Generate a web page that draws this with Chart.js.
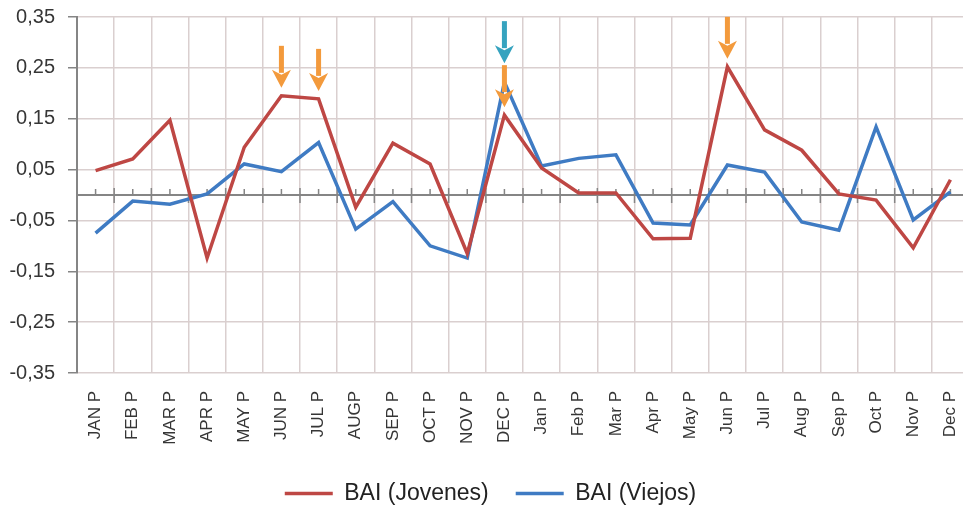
<!DOCTYPE html>
<html>
<head>
<meta charset="utf-8">
<title>BAI Jovenes / Viejos</title>
<script src="https://cdn.jsdelivr.net/npm/chart.js@4.4.1/dist/chart.umd.min.js"></script>
<style>
    html, body { margin: 0; padding: 0; background: #fff; overflow: hidden; }
    #wrap { width: 963px; height: 507px; overflow: hidden; }
    canvas { display: block; }
</style>
</head>
<body>
<div id="wrap"><canvas id="bai-chart" width="972" height="507"></canvas></div>
<script>
// Monthly BAI values, two years
const months = ['JAN P', 'FEB P', 'MAR P', 'APR P', 'MAY P', 'JUN P', 'JUL P', 'AUGP', 'SEP P', 'OCT P', 'NOV P', 'DEC P',
                'Jan P', 'Feb P', 'Mar P', 'Apr P', 'May P', 'Jun P', 'Jul P', 'Aug P', 'Sep P', 'Oct P', 'Nov P', 'Dec P'];
const jovenes = [0.048, 0.071, 0.147, -0.124, 0.094, 0.195, 0.189, -0.024, 0.102, 0.061, -0.115, 0.157,
                 0.053, 0.004, 0.004, -0.086, -0.085, 0.252, 0.128, 0.088, 0.002, -0.010, -0.104, 0.030];
const viejos = [-0.075, -0.012, -0.018, 0.002, 0.061, 0.046, 0.103, -0.067, -0.013, -0.100, -0.124, 0.222,
                0.057, 0.072, 0.079, -0.055, -0.059, 0.059, 0.045, -0.053, -0.069, 0.134, -0.049, 0.006];

// y axis range and tick step
const yMin = -0.35;
const yMax = 0.35;
const yStep = 0.1;

// months flagged with an arrow
const markedJovenes = ['JUN P', 'JUL P', 'DEC P', 'Jun P'];
const markedViejos = ['DEC P'];

(function() {
    'use strict';

    const colors = {
        red: '#BE4744',
        blue: '#3F7BC3',
        orange: '#F39A3C',
        teal: '#36A3BF',
        grid: '#DACFCF',
        axis: '#858585',
        text: '#363636'
    };
    const fontFamily = '"Liberation Sans", Arial, sans-serif';

    // dark horizontal axis through zero, with Excel-like tick marks
    const zeroAxis = {
        id: 'zeroAxis',
        beforeDatasetsDraw(chart) {
            const { ctx, chartArea, scales: { x, y } } = chart;
            const y0 = y.getPixelForValue(0);
            const step = (chartArea.right - chartArea.left) / months.length;
            ctx.save();
            ctx.strokeStyle = colors.axis;
            ctx.lineWidth = 2;
            ctx.beginPath();
            ctx.moveTo(chartArea.left, y0);
            ctx.lineTo(chartArea.right, y0);
            ctx.stroke();
            ctx.lineWidth = 1.5;
            ctx.beginPath();
            for (let i = 0; i < months.length; i++) {
                const cx = x.getPixelForValue(i);
                ctx.moveTo(cx, y0 - 6);
                ctx.lineTo(cx, y0);
                const bx = cx - step / 2;
                ctx.moveTo(bx, y0 - 7);
                ctx.lineTo(bx, y0 + 8);
            }
            ctx.stroke();
            ctx.restore();
        }
    };

    // arrows pointing down at the flagged peaks
    const peakArrows = {
        id: 'peakArrows',
        afterDatasetsDraw(chart) {
            const { ctx, scales: { x, y } } = chart;
            const len = 42, headH = 18, headW = 19, shaft = 5, gap = 8;

            function drawArrow(cx, tipY, color) {
                ctx.save();
                ctx.fillStyle = color;
                ctx.fillRect(cx - shaft / 2, tipY - len, shaft, len - headH + 3);
                ctx.beginPath();
                ctx.moveTo(cx - headW / 2, tipY - headH);
                ctx.lineTo(cx, tipY - headH + 5);
                ctx.lineTo(cx + headW / 2, tipY - headH);
                ctx.lineTo(cx, tipY);
                ctx.closePath();
                ctx.fill();
                ctx.restore();
                return tipY - len;
            }

            const tops = {};
            markedJovenes.forEach(function(m) {
                const i = months.indexOf(m);
                const px = x.getPixelForValue(i);
                const tip = y.getPixelForValue(jovenes[i]) - gap;
                tops[i] = drawArrow(px, tip, colors.orange);
            });
            markedViejos.forEach(function(m) {
                const i = months.indexOf(m);
                const px = x.getPixelForValue(i);
                let tip = y.getPixelForValue(viejos[i]) - gap;
                if (tops[i] !== undefined) {
                    tip = Math.min(tip, tops[i] - 2);
                }
                drawArrow(px, tip, colors.teal);
            });
        }
    };

    // fixed legend box height, nudged to the right
    const legendBox = {
        id: 'legendBox',
        beforeInit(chart) {
            const fit = chart.legend.fit;
            chart.legend.fit = function() {
                fit.bind(chart.legend)();
                this.height = 52;
            };
        },
        afterLayout(chart) {
            chart.legend.left += 6;
            chart.legend.right += 6;
        }
    };

    function initChart() {
        const ctx = document.getElementById('bai-chart').getContext('2d');

        new Chart(ctx, {
            type: 'line',
            data: {
                labels: months,
                datasets: [
                    {
                        label: 'BAI (Jovenes)',
                        data: jovenes,
                        borderColor: colors.red,
                        backgroundColor: colors.red,
                        borderWidth: 3.5,
                        pointRadius: 0,
                        tension: 0
                    },
                    {
                        label: 'BAI (Viejos)',
                        data: viejos,
                        borderColor: colors.blue,
                        backgroundColor: colors.blue,
                        borderWidth: 3.5,
                        pointRadius: 0,
                        tension: 0
                    }
                ]
            },
            options: {
                responsive: false,
                animation: false,
                layout: {
                    padding: { top: 17, right: 3, bottom: 0, left: 0 }
                },
                plugins: {
                    legend: {
                        position: 'bottom',
                        labels: {
                            usePointStyle: true,
                            pointStyle: 'line',
                            pointStyleWidth: 48,
                            padding: 27,
                            color: '#222',
                            font: { family: fontFamily, size: 23 }
                        }
                    },
                    tooltip: { enabled: false }
                },
                scales: {
                    x: {
                        offset: true,
                        grid: {
                            offset: true,
                            color: colors.grid,
                            lineWidth: 1.5,
                            drawTicks: false
                        },
                        border: { display: false },
                        ticks: {
                            autoSkip: false,
                            minRotation: 90,
                            maxRotation: 90,
                            padding: 18,
                            color: colors.text,
                            font: { family: fontFamily, size: 17 }
                        },
                        afterFit: function(scale) {
                            scale.height = 82;
                            scale.paddingLeft = 0;
                            scale.paddingRight = 0;
                        }
                    },
                    y: {
                        min: yMin,
                        max: yMax,
                        grid: {
                            color: colors.grid,
                            lineWidth: 1.5,
                            tickColor: colors.axis,
                            tickLength: 9
                        },
                        border: { color: colors.axis, width: 2 },
                        ticks: {
                            stepSize: yStep,
                            padding: 13,
                            color: colors.text,
                            font: { family: fontFamily, size: 20 },
                            callback: function(value) {
                                return Number(value).toFixed(2).replace('.', ',');
                            }
                        },
                        afterFit: function(scale) {
                            scale.width = 77;
                            scale.paddingTop = 0;
                            scale.paddingBottom = 0;
                        }
                    }
                }
            },
            plugins: [zeroAxis, peakArrows, legendBox]
        });
    }

    if (document.readyState === 'loading') {
        document.addEventListener('DOMContentLoaded', initChart);
    } else {
        initChart();
    }
})();
</script>
</body>
</html>
